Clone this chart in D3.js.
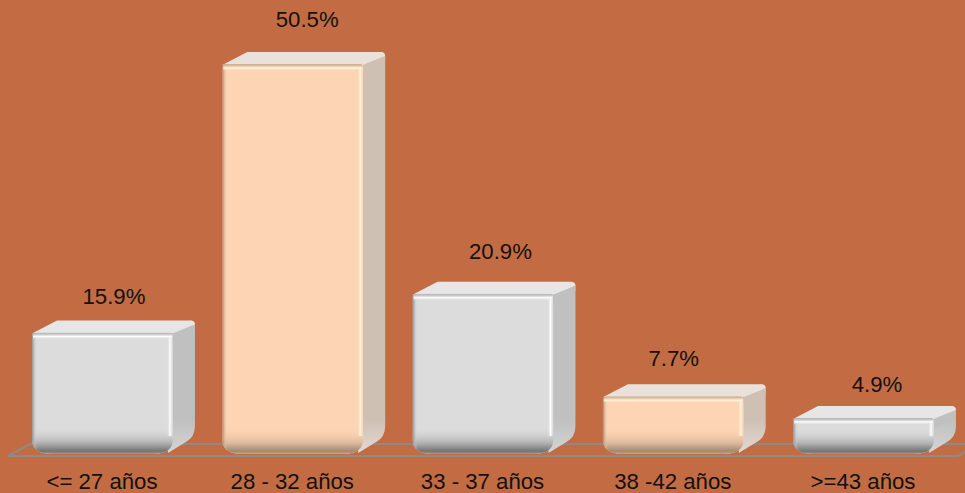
<!DOCTYPE html>
<html><head><meta charset="utf-8">
<script src="https://cdn.jsdelivr.net/npm/d3@7/dist/d3.min.js"></script>
<style>html,body{margin:0;padding:0;background:#c36c44;overflow:hidden}svg{display:block}text{font-family:"Liberation Sans",Arial,sans-serif;fill:#111111}</style>
</head><body><svg id="c" width="965" height="493"></svg>
<script>
const categories = ["<= 27 años","28 - 32 años","33 - 37 años","38 -42 años",">=43 años"];
const values = [15.9,50.5,20.9,7.7,4.9];
const valueLabels = ["15.9%","50.5%","20.9%","7.7%","4.9%"];
const themes = ["grey","peach","grey","peach","grey"];

const W=965,H=493,DX=22,DY=-12,R=15;
const svg=d3.select("#c");
svg.append("rect").attr("width",W).attr("height",H).attr("fill","#c36c44");
const x=d3.scaleBand().domain(categories).range([7.3,958.7]).paddingInner(0.2595).paddingOuter(0.13);
const y=d3.scaleLinear().domain([0,50.5]).range([456,64]);
const palette={
 grey:{front:"#dcdcdc",top:"#e6e6e6",side:"#c0c0c0",hi:"#ffffff",mid:"#b0b0b0",lo:"#747474",end:"#9c9c9c",edge:"#8f8f8f",sideLo:"#d4d4d4"},
 peach:{front:"#fdd5b5",top:"#eae2da",side:"#cfc0b4",hi:"#fff6dc",mid:"#dcb89c",lo:"#a38872",end:"#c0a48e",edge:"#a5876c",sideLo:"#e2d8d0"}
};
const defs=svg.append("defs");
Object.entries(palette).forEach(([k,p])=>{
 const b=defs.append("linearGradient").attr("id","bot-"+k).attr("x1",0).attr("x2",0).attr("y1",0).attr("y2",1);
 [[0,p.front,0],[.6,p.mid,1],[.9,p.lo,1],[1,p.end,1]].forEach(s=>b.append("stop").attr("offset",s[0]).attr("stop-color",s[1]).attr("stop-opacity",s[2]));
 const l=defs.append("linearGradient").attr("id","left-"+k);
 [[0,p.edge,1],[1,p.front,0]].forEach(s=>l.append("stop").attr("offset",s[0]).attr("stop-color",s[1]).attr("stop-opacity",s[2]));
 const t=defs.append("linearGradient").attr("id","top-"+k).attr("x1",0).attr("x2",0).attr("y1",0).attr("y2",1);
 [[0,p.edge,.5],[.55,p.hi,1],[1,p.front,0]].forEach(s=>t.append("stop").attr("offset",s[0]).attr("stop-color",s[1]).attr("stop-opacity",s[2]));
 const r=defs.append("linearGradient").attr("id","right-"+k);
 [[0,p.front,0],[.5,p.hi,1],[1,p.front,.2]].forEach(s=>r.append("stop").attr("offset",s[0]).attr("stop-color",s[1]).attr("stop-opacity",s[2]));
 const sg=defs.append("linearGradient").attr("id","sidebot-"+k).attr("gradientUnits","userSpaceOnUse").attr("x1",0).attr("x2",0).attr("y1",420).attr("y2",452);
 [[0,p.side,1],[1,p.sideLo,1]].forEach(s=>sg.append("stop").attr("offset",s[0]).attr("stop-color",s[1]));
});
// floor plane
const floor=d3.path();
const fl=8,fr=958,fy=y(0);
floor.moveTo(fl,fy);floor.lineTo(fl+DX,fy+DY);floor.lineTo(fr+DX,fy+DY);floor.lineTo(fr,fy);floor.closePath();
svg.append("path").attr("d",floor.toString()).attr("fill","none").attr("stroke","#8f8a86").attr("stroke-width",2);

const bw=x.bandwidth();
categories.forEach((c,i)=>{
 const v=values[i],p=palette[themes[i]],k=themes[i];
 const x0=x(c),x1=x0+bw,yt=y(v),yb=y(0)-2,g=svg.append("g");
 const sr=yb-28;
 // side
 g.append("path").attr("d",`M${x1},${yt}L${x1+DX-5},${yt+DY}Q${x1+DX},${yt+DY} ${x1+DX},${yt+DY+5}L${x1+DX},${Math.max(sr,yt+DY+8)}Q${x1+DX},${yb-17} ${x1+DX-9},${yb-12}L${x1-5},${yb-1}Z`).attr("fill",`url(#sidebot-${k})`);
 // top
 g.append("path").attr("d",`M${x0},${yt+1}L${x0+DX+3},${yt+DY}L${x1+DX-5},${yt+DY}Q${x1+DX},${yt+DY} ${x1+DX},${yt+DY+4}L${x1},${yt+1}Z`).attr("fill",p.top);
 // soft shading where side meets top
 g.append("path").attr("d",`M${x1},${yt+1}L${x1+DX},${yt+DY+4}L${x1+DX},${yt+DY+9}L${x1},${yt+10}Z`).attr("fill",p.side).attr("opacity",.9);
 // front
 const front=`M${x0+3},${yt}L${x1-3},${yt}Q${x1},${yt} ${x1},${yt+3}L${x1},${yb-R}Q${x1},${yb} ${x1-R-5},${yb}L${x0+R+5},${yb}Q${x0},${yb} ${x0},${yb-R}L${x0},${yt+3}Q${x0},${yt} ${x0+3},${yt}Z`;
 defs.append("clipPath").attr("id","clip"+i).append("path").attr("d",front);
 const f=g.append("g").attr("clip-path",`url(#clip${i})`);
 f.append("rect").attr("x",x0).attr("y",yt).attr("width",bw).attr("height",yb-yt).attr("fill",p.front);
 const bh=Math.min(27,(yb-yt)*.72);
 f.append("rect").attr("x",x0).attr("y",yb-bh).attr("width",bw).attr("height",bh).attr("fill",`url(#bot-${k})`);
 f.append("rect").attr("x",x0).attr("y",yt).attr("width",5).attr("height",yb-yt).attr("fill",`url(#left-${k})`);
 f.append("rect").attr("x",x1-6).attr("y",yt+2).attr("width",6).attr("height",Math.max(yb-yt-20,4)).attr("fill",`url(#right-${k})`);
 f.append("rect").attr("x",x0+1).attr("y",yt).attr("width",bw-2).attr("height",7).attr("fill",`url(#top-${k})`);
});
// value labels and category labels
const nudgeX=[12,15,18,1,14], gap=[24,32,30,25,21];
svg.selectAll("text.v").data(values).join("text").attr("class","v")
 .attr("x",(d,i)=>x(categories[i])+bw/2+nudgeX[i]-0.5).attr("y",(d,i)=>y(d)+DY-gap[i]+7)
 .attr("text-anchor","middle").attr("font-size",22.2).text((d,i)=>valueLabels[i]);
svg.selectAll("text.c").data(categories).join("text").attr("class","c")
 .attr("x",d=>x(d)+bw/2-0.5).attr("y",489).attr("text-anchor","middle").attr("font-size",22.2).text(d=>d);
</script></body></html>
